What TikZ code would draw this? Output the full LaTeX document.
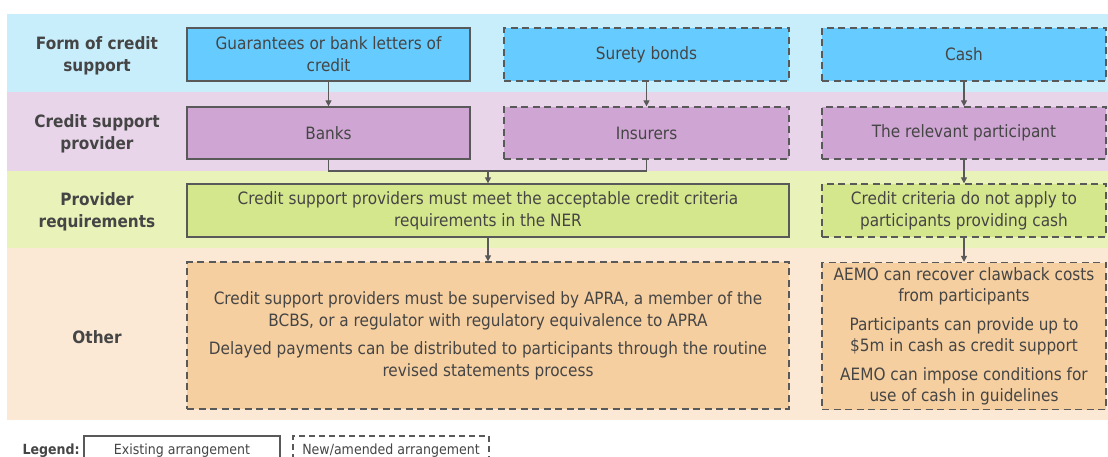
\documentclass[tikz,border=0pt]{standalone}
\usepackage{fontspec}
\setmainfont{DejaVu Sans Condensed}
\usetikzlibrary{arrows.meta}

\definecolor{bandblue}{HTML}{C8EEFB}
\definecolor{boxblue}{HTML}{66CCFF}
\definecolor{bandpurple}{HTML}{E9D5EA}
\definecolor{boxpurple}{HTML}{CFA6D3}
\definecolor{bandgreen}{HTML}{E9F2B9}
\definecolor{boxgreen}{HTML}{D5E78C}
\definecolor{bandpeach}{HTML}{FBE9D5}
\definecolor{boxpeach}{HTML}{F6CFA0}
\definecolor{edge}{HTML}{595959}
\definecolor{ink}{HTML}{454545}

\tikzset{
  band/.style={fill=#1, draw=none},
  rowlabel/.style={font=\fontsize{17}{22}\selectfont\bfseries, text=ink, align=center},
  cell/.style={draw=edge, line width=1.3pt, fill=#1, text=ink, align=center,
    font=\fontsize{17}{22}\selectfont, inner sep=2pt},
  newcell/.style={cell=#1, dash pattern=on 7pt off 4.5pt},
  arr/.style={draw=edge, line width=1.3pt, -{Triangle[length=6pt,width=6pt]}},
  link/.style={draw=edge, line width=1.3pt},
  legendbox/.style={draw=edge, line width=1.1pt, fill=white, text=ink,
    font=\fontsize{14}{17}\selectfont, minimum width=196pt, minimum height=30pt},
}

\begin{document}
\begin{tikzpicture}[x=1pt,y=-1pt]
\useasboundingbox (0,0) rectangle (1108,457);

% horizontal bands
\fill[band=bandblue]   (7,14)  rectangle (1108,92);
\fill[band=bandpurple] (7,92)  rectangle (1108,171);
\fill[band=bandgreen]  (7,171) rectangle (1108,248);
\fill[band=bandpeach]  (7,248) rectangle (1108,420);

% row labels
\node[rowlabel] (l1) at (97,55.5)  {Form of credit\\support};
\node[rowlabel] (l2) at (97,133.5) {Credit support\\provider};
\node[rowlabel] (l3) at (97,211.5) {Provider\\requirements};
\node[rowlabel] (l4) at (97,337) {Other};

% form of credit support
\node[cell=boxblue, minimum width=283pt, minimum height=53pt] (guar) at (328.5,54.5)
  {Guarantees or bank letters of\\credit};
\node[newcell=boxblue, minimum width=285pt, minimum height=53pt] (surety) at (646.5,54.5)
  {Surety bonds};
\node[newcell=boxblue, minimum width=284pt, minimum height=53pt] (cash) at (964,54.5)
  {Cash};

% credit support provider
\node[cell=boxpurple, minimum width=283pt, minimum height=52pt] (banks) at (328.5,133)
  {Banks};
\node[newcell=boxpurple, minimum width=285pt, minimum height=52pt] (ins) at (646.5,133)
  {Insurers};
\node[newcell=boxpurple, minimum width=284pt, minimum height=52pt] (part) at (964,133)
  {The relevant participant};

% provider requirements
\node[cell=boxgreen, minimum width=602pt, minimum height=53pt] (req) at (488,210.5)
  {Credit support providers must meet the acceptable credit criteria\\requirements in the NER};
\node[newcell=boxgreen, minimum width=284pt, minimum height=53pt] (reqcash) at (964,210.5)
  {Credit criteria do not apply to\\participants providing cash};

% other
\node[newcell=boxpeach, minimum width=602pt, minimum height=147pt,
      font=\fontsize{17}{22}\selectfont] (oth) at (488,335.5)
  {Credit support providers must be supervised by APRA, a member of the\\
   BCBS, or a regulator with regulatory equivalence to APRA\\[6pt]
   Delayed payments can be distributed to participants through the routine\\
   revised statements process};
\node[newcell=boxpeach, minimum width=284pt, minimum height=147pt,
      font=\fontsize{17}{21}\selectfont] (othcash) at (964,336)
  {AEMO can recover clawback costs\\from participants\\[8pt]
   Participants can provide up to\\\$5m in cash as credit support\\[8pt]
   AEMO can impose conditions for\\use of cash in guidelines};

% connectors
\coordinate (join) at (488,171);
\draw[arr] (guar) -- (banks);
\draw[arr] (surety) -- (ins);
\draw[arr] (cash) -- (part);
\draw[link] (banks.south) |- (join);
\draw[link] (ins.south) |- (join);
\draw[arr] (join) -- (req.north);
\draw[arr] (part) -- (reqcash);
\draw[arr] (req) -- (oth);
\draw[arr] (reqcash) -- (othcash);

% legend
\node[anchor=west, text=ink, font=\fontsize{14}{17}\selectfont\bfseries] (leg) at (19,451) {Legend:};
\node[legendbox] (existing) at (182,451) {Existing arrangement};
\node[legendbox, dash pattern=on 6pt off 4pt] (amended) at (391,451) {New/amended arrangement};
\end{tikzpicture}
\end{document}
